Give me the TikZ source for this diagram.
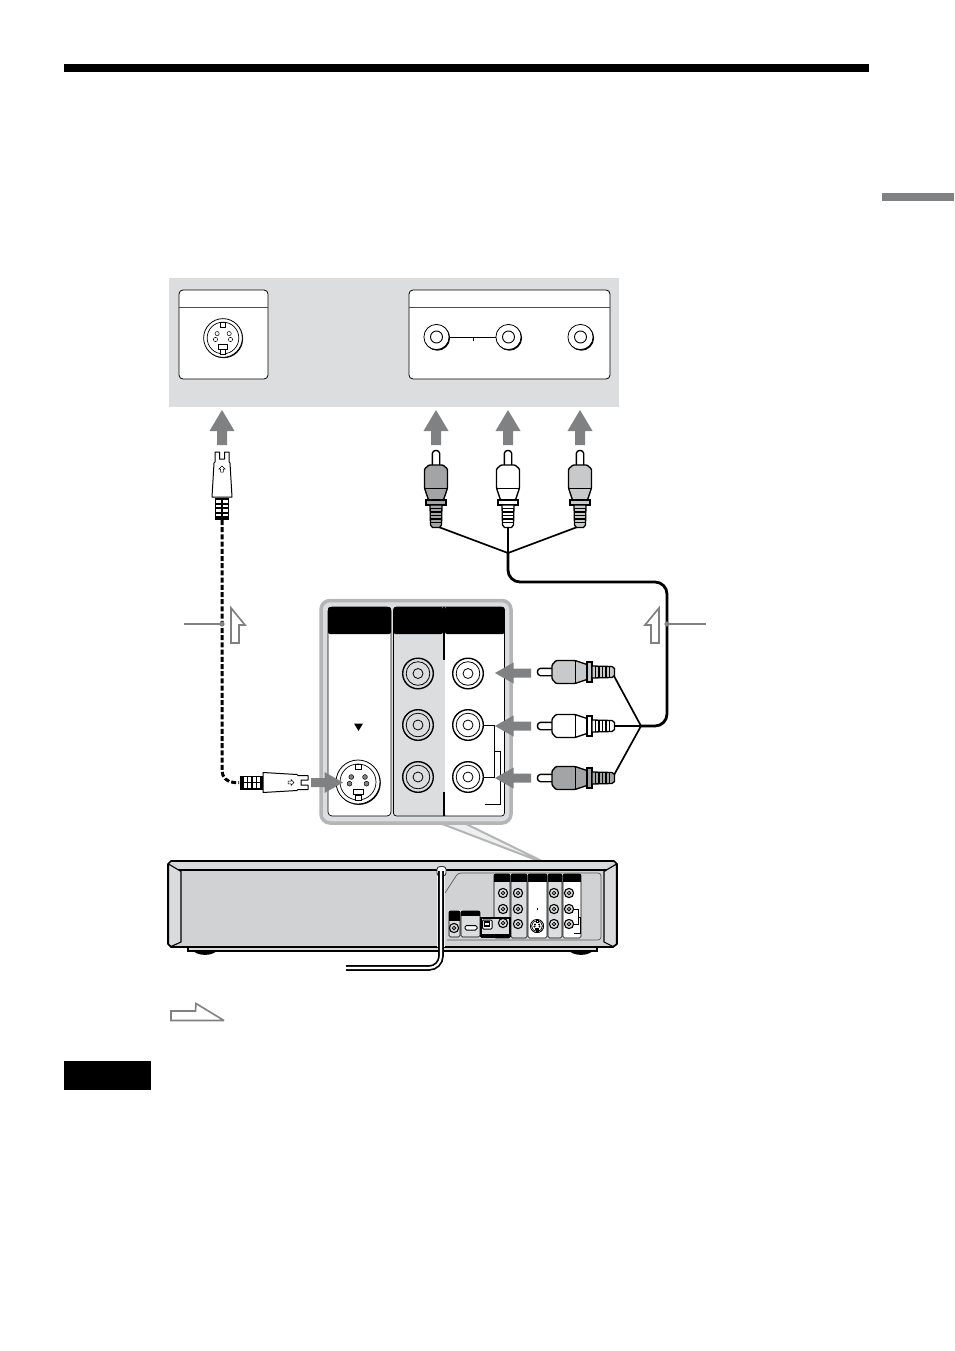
\documentclass[tikz,border=0pt]{standalone}
\definecolor{arrowgray}{HTML}{808182}
\definecolor{panelgray}{HTML}{DCDDDE}
\definecolor{framegray}{HTML}{B4B5B6}
\definecolor{bodygray}{HTML}{D1D2D3}
\definecolor{capgray}{HTML}{DADBDC}
\definecolor{plugdark}{HTML}{A3A4A6}
\definecolor{pluglight}{HTML}{C8C9CA}
\tikzset{
  x=1pt,y=-1pt,
  pics/bigarrow/.style={code={\fill[arrowgray] (0,0)--(12.5,21)--(5,21)--(5,#1)--(-5,#1)--(-5,21)--(-12.5,21)--cycle;}},
  pics/sidearrow/.style={code={\fill[arrowgray] (0,0)--(10.5,18.5)--(4.5,18.5)--(4.5,#1)--(-4.5,#1)--(-4.5,18.5)--(-10.5,18.5)--cycle;}},
  pics/rcaplug/.style={code={
    \draw[fill=white,line width=1.4pt] (-3.7,17)--(-3.7,3.5) .. controls (-3.7,-.6) and (3.7,-.6) .. (3.7,3.5)--(3.7,17);
    \draw[fill=#1,line width=1.4pt,line join=round,rounded corners=1pt] (-7,15)--(7,15)--(11.5,19)--(11.5,38)--(7.5,50)--(-7.5,50)--(-11.5,38)--(-11.5,19)--cycle;
    \draw[line width=.7pt] (-11.5,38)--(11.5,38);
    \draw[fill=#1,line width=1.3pt] (-10,50) rectangle (10,55);
    \draw[fill=#1,line width=1.3pt,line join=round] (-6,55)--(6,55)--(5.5,75)--(3.5,77.5)--(-3.5,77.5)--(-5.5,75)--cycle;
    \foreach \i in {58.5,62,65.5,69,72.5}{\draw[line width=1.2pt] (-5.6,\i)--(5.6,\i);}
  }},
  pics/splug/.style={code={
    \draw[fill=white,line width=1pt,line join=round] (-7,0)--(-2.5,0)--(-2.5,7)--(2.5,7)--(2.5,0)--(7,0)--(7,10)--(8,11)--(10,45)--(-10,45)--(-8,11)--(-7,10)--cycle;
    \draw[line width=.5pt] (0,14)--(3,17)--(1.4,17)--(1.4,20)--(-1.4,20)--(-1.4,17)--(-3,17)--cycle;
    \fill[black] (-7,45.5) rectangle (7,68);
    \foreach \i in {48,52.5,57,61.5}{
      \fill[white] (-5.8,\i) rectangle (-.8,\i+2.8);
      \fill[white] (.8,\i) rectangle (5.8,\i+2.8);}
  }},
  pics/sjack/.style={code={
    \fill[black] (.8,.9) circle (22);
    \draw[fill=white,line width=.8pt] (0,0) circle (22);
    \draw[line width=.7pt] (0,0) circle (18);
    \draw[line width=.6pt,fill=white] (-3,-18) rectangle (3,-12.5);
    \draw[line width=.6pt,fill=white] (-3,13) rectangle (3,18);
    \draw[line width=.6pt,fill=white] (-5,7) rectangle (5,12.5);
    \foreach \p/\q in {-6.7/-5,7/-5,-8.5/1.7,8.5/1.7}{\draw[line width=.5pt,fill=#1] (\p,\q) circle (2.4);}
  }},
  pics/rcajack/.style={code={
    \draw[line width=1.4pt,fill=#1] (0,0) circle (15.3);
    \draw[line width=.8pt] (0,0) circle (11.8);
    \draw[line width=.8pt] (0,0) circle (5);
  }},
  pics/tvjack/.style={code={
    \fill[black] (.8,.9) circle (12.8);
    \draw[line width=.8pt,fill=white] (0,0) circle (12.6);
    \draw[line width=.9pt,fill=white] (0,0) circle (6);
  }},
  pics/minijack/.style={code={
    \draw[line width=1.1pt,fill=capgray] (0,0) circle (4.6);
    \draw[line width=.8pt,fill=white] (0,0) circle (1.7);
  }},
  hollow/.style={draw=arrowgray,line width=1.7pt,fill=white,miter limit=3},
  plate/.style={line width=.6pt,rounded corners=1.5pt},
  wire/.style={line width=1.7pt,black},
  cable/.style={line width=2.8pt,black,line join=round},
  leader/.style={arrowgray,line width=1.4pt}
}
\begin{document}
\begin{tikzpicture}[x=1pt,y=-1pt]
\useasboundingbox (0,0) rectangle (954,1351);
\fill[white] (0,0) rectangle (954,1351);
% page furniture
\fill[black] (64,64) rectangle (869,72);
\fill[arrowgray] (882,193) rectangle (954,201);
\fill[black] (64,1061) rectangle (151,1090);
% TV panel
\fill[panelgray] (169,278) rectangle (619,407);
\draw[fill=white,line width=.8pt,rounded corners=4pt] (179,290) rectangle (268,379);
\draw[line width=1.3pt,arrowgray!60!black] (179,307.5)--(268,307.5);
\draw[fill=white,line width=.8pt,rounded corners=4pt] (409,290) rectangle (610,379);
\draw[line width=1.3pt,arrowgray!60!black] (409,307.5)--(610,307.5);
\pic[scale=.88] at (223,338) {sjack=white};
\pic at (436.5,337) {tvjack};
\pic at (508.5,337) {tvjack};
\pic at (580.5,337) {tvjack};
\draw[line width=.7pt] (449,337)--(496,337) (473,337)--(473,341);
% up arrows
\pic at (222,410) {bigarrow=35};
\pic at (436,410) {bigarrow=35};
\pic at (508,410) {bigarrow=35};
\pic at (580,410) {bigarrow=35};
% cables behind plugs
\coordinate (j1) at (508,553);
\coordinate (j2) at (641,726);
\coordinate (p1) at (436,526);
\coordinate (p2) at (508,526);
\coordinate (p3) at (580,526);
\coordinate (q1) at (614,676);
\coordinate (q2) at (614,726);
\coordinate (q3) at (614,775);
\draw[wire] (p1)--(j1) (p2)--(j1) (p3)--(j1);
\draw[wire] (q1)--(j2) (q2)--(j2) (q3)--(j2);
\draw[cable,rounded corners=12pt] (j1)--(508,582)--(667,582)--(667,726)--(j2);
\draw[line width=3pt,dash pattern=on 5pt off 2.2pt,rounded corners=12pt] (222,520)--(222,782.5)--(239,782.5);
% plugs
\pic at (222,452) {splug};
\pic at (436,450) {rcaplug=plugdark};
\pic at (508,450) {rcaplug=white};
\pic at (580,450) {rcaplug=pluglight};
% hollow arrows and leaders
\draw[hollow] (231,608)--(245,625)--(239,625)--(239,643)--(231,643)--cycle;
\draw[hollow] (659,608)--(645,625)--(651,625)--(651,643)--(659,643)--cycle;
\draw[leader] (184,624)--(222,624);
\fill[arrowgray] (222,624) circle (2.6);
\draw[leader] (667,624)--(706,624);
\fill[arrowgray] (667,624) circle (2.6);
\draw[hollow,line width=1.6pt] (171,1011)--(195.5,1011)--(196,1003.5)--(224,1020.5)--(171,1020.5)--cycle;
% callout
\fill[capgray!45!white] (437,822)--(462,822)--(552,866)--cycle;
\draw[framegray,line width=2pt] (437,822)--(552,866)--(462,822);
\draw[framegray,line width=3.5pt,fill=panelgray,rounded corners=9pt] (321,600.5) rectangle (511,823);
\draw[fill=white,line width=.7pt,rounded corners=4pt] (328,607) rectangle (391,816);
\fill[panelgray,rounded corners=3pt] (393.5,607) rectangle (445,816);
\draw[line width=.7pt,rounded corners=3pt] (445,816)--(393.5,816)--(393.5,607)--(445,607);
\fill[white,rounded corners=3pt] (445,607) rectangle (504.5,816);
\draw[line width=.7pt,rounded corners=3pt] (445,816)--(504.5,816)--(504.5,607)--(445,607);
\fill[panelgray] (441,612) rectangle (445,811);
\draw[line width=1.1pt] (444,607)--(444,659.5) (444,792)--(444,816);
\fill[black,rounded corners=2pt] (328,607) rectangle (391,634);
\fill[black,rounded corners=2pt] (393.5,607) rectangle (443,634);
\fill[black,rounded corners=2pt] (445,607) rectangle (504.5,634);
\fill[black] (354,723.5)--(363,723.5)--(358.5,731)--cycle;
\pic at (358,782) {sjack=arrowgray};
\foreach \yy in {673.5,725,777}{
  \pic at (418,\yy) {rcajack=panelgray};
  \pic at (468,\yy) {rcajack=white};
}
\draw[line width=.8pt] (484,725)--(494,725)--(494,777)--(484,777);
\draw[line width=.8pt] (494,751)--(500.5,751)--(500.5,804)--(485,804);
% horizontal plugs and arrows
\pic[rotate=90] at (537,672) {rcaplug=pluglight};
\pic[rotate=90] at (537,726) {rcaplug=white};
\pic[rotate=90] at (537,778) {rcaplug=plugdark};
\pic[rotate=-90] at (308,782.5) {splug};
\pic[rotate=90] at (495,673) {sidearrow=36};
\pic[rotate=90] at (495,726) {sidearrow=36};
\pic[rotate=90] at (495,778) {sidearrow=36};
\pic[rotate=-90] at (343,782.5) {sidearrow=32};
% recorder
\fill[black] (192,950) .. controls (198,956.5) and (212,956.5) .. (218,950)--cycle;
\fill[black] (568,950) .. controls (574,956.5) and (588,956.5) .. (594,950)--cycle;
\draw[fill=capgray,line width=1.4pt] (188,946) rectangle (597,951);
\draw[fill=bodygray,line width=1.7pt,line join=round] (171,861)--(614,861)--(617,864)--(617,944)--(613,947)--(171,947)--(168,944)--(168,864)--cycle;
\fill[capgray] (172,862)--(613,862)--(604,869)--(181,869)--cycle;
\draw[line width=1.2pt] (178,870)--(607,870);
\draw[line width=1.1pt,fill=capgray,line join=round] (168.5,864)--(181,871.5)--(181,942)--(171,946.5)--(168.5,944)--cycle;
\draw[line width=1.1pt,fill=capgray,line join=round] (616.5,864)--(604,871.5)--(604,942)--(613,946.5)--(616.5,944)--cycle;
\draw[line width=.7pt,arrowgray!70!black,rounded corners=3pt] (445,893)--(458,873)--(601,873)--(601,940)--(447,940);
% recorder connector columns
\fill[panelgray,draw=black,plate] (494,874) rectangle (510,938);
\fill[panelgray,draw=black,plate] (511,874) rectangle (527,938);
\fill[white,draw=black,plate] (528,874) rectangle (547,938);
\fill[panelgray,draw=black,plate] (548,874) rectangle (562,938);
\fill[white,draw=black,plate] (563,874) rectangle (581,938);
\fill[black] (494,874) rectangle (510,882);
\fill[black] (511,874) rectangle (527,882);
\fill[black] (528,874) rectangle (547,882);
\fill[black] (548,874) rectangle (562,882);
\fill[black] (563,874) rectangle (581,882);
\fill[panelgray,draw=black,plate] (449,911) rectangle (460,937);
\fill[black] (449,911) rectangle (460,921);
\fill[panelgray,draw=black,plate] (461,911) rectangle (480,937);
\fill[black] (461,911) rectangle (480,915.5);
\draw[fill=panelgray,line width=1.1pt] (481,918) rectangle (510,936);
\fill[black] (481,933.5) rectangle (510,937.5);
\draw[line width=1pt,fill=white,rounded corners=1pt] (482.5,920) rectangle (492,929);
\draw[line width=1.6pt,fill=white] (484.5,922) rectangle (489.5,926);
\draw[line width=1pt,fill=white,rounded corners=1.5pt] (465,925.5) rectangle (477,930);
\foreach \xx in {503,518,554,569}{\pic at (\xx,893) {minijack};}
\foreach \xx in {503,518,554,569}{\pic at (\xx,909) {minijack};}
\foreach \xx in {518,554,569}{\pic at (\xx,924) {minijack};}
\pic at (503,923) {minijack};
\pic at (454,928) {minijack};
\fill[black] (536.5,908) rectangle (538,909.5);
\pic[scale=.3] at (537,926) {sjack=white};
\draw[line width=.9pt] (573,909)--(578,909)--(578,924)--(573,924);
\draw[line width=.9pt] (578,917)--(580,917)--(580,933)--(574,933);
% power cord
\coordinate (cordA) at (441,871);
\coordinate (cordB) at (346,968);
\draw[line width=8pt,capgray!40!white,rounded corners=12pt] (cordA)--(441,947);
\draw[line width=.9pt,arrowgray!40!black,fill=white,rounded corners=3pt] (437,866.5) rectangle (446,876);
\draw[line width=5.6pt,black,rounded corners=12pt] (cordA)--(441,968)--(cordB);
\draw[line width=2.2pt,white,rounded corners=12pt] (cordA)--(441,968)--(345,968);
\end{tikzpicture}
\end{document}
